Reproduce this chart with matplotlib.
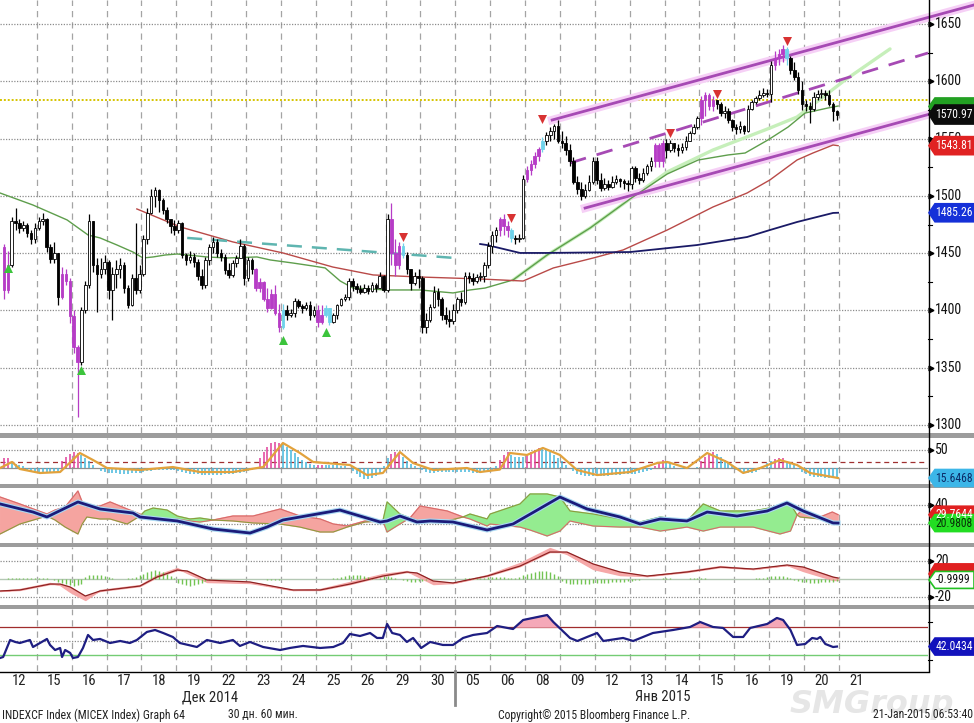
import numpy as np
import matplotlib
matplotlib.use("Agg")
import matplotlib.pyplot as plt
from matplotlib import font_manager as fm
from matplotlib.patches import Polygon, Rectangle
from matplotlib.lines import Line2D
from matplotlib.transforms import IdentityTransform, blended_transform_factory


# Bloomberg uses a narrow face; take the narrowest one that is installed
def pick_font():
    names = {f.name for f in fm.fontManager.ttflist}
    for nm in ['Liberation Sans Narrow', 'Roboto Condensed', 'Open Sans Condensed',
               'DejaVu Sans Condensed', 'Noto Sans Condensed']:
        if nm in names:
            return nm, 'normal', True
    for f in fm.fontManager.ttflist:
        if str(f.stretch) in ('condensed', 'semi-condensed', 'extra-condensed') and \
                f.name in ('DejaVu Sans', 'Noto Sans', 'Open Sans', 'Roboto', 'Liberation Sans'):
            return f.name, f.stretch, True
    return 'Liberation Sans', 'normal', False


FONT, STRETCH, NARROW = pick_font()
plt.rcParams['font.family'] = [FONT, 'DejaVu Sans']
plt.rcParams['font.stretch'] = STRETCH
FS = 1.0 if NARROW else 0.86

# ---------------------------
# Data: MICEX hourly bars, 9 bars per session
# ---------------------------
day_labels = ["12", "15", "16", "17", "18", "19", "22", "23", "24", "25", "26", "29", "30",
              "05", "06", "08", "09", "12", "13", "14", "15", "16", "19", "20", "21"]

first_open = 1455
closes = [
    [1418, 1440, 1478, 1476, 1472, 1475, 1468, 1462, 1472],
    [1478, 1480, 1455, 1445, 1450, 1412, 1432, 1426, 1395],
    [1368, 1355, 1400, 1422, 1478, 1440, 1432, 1436, 1442],
    [1418, 1432, 1436, 1440, 1420, 1405, 1428, 1418, 1432],
    [1462, 1485, 1500, 1505, 1496, 1488, 1480, 1474, 1470],
    [1476, 1448, 1444, 1447, 1442, 1430, 1422, 1444, 1455],
    [1460, 1450, 1447, 1435, 1431, 1441, 1446, 1456, 1428],
    [1444, 1436, 1420, 1425, 1410, 1402, 1414, 1398, 1386],
    [1400, 1396, 1398, 1408, 1404, 1402, 1405, 1396, 1400],
    [1390, 1396, 1402, 1390, 1396, 1405, 1410, 1412, 1426],
    [1421, 1419, 1416, 1420, 1417, 1422, 1420, 1430, 1418],
    [1480, 1450, 1440, 1456, 1448, 1436, 1424, 1430, 1428],
    [1386, 1392, 1403, 1416, 1410, 1396, 1393, 1391, 1400],
    [1410, 1407, 1430, 1428, 1426, 1429, 1430, 1440, 1456],
    [1466, 1470, 1480, 1474, 1470, 1463, 1462, 1463, 1515],
    [1523, 1528, 1535, 1541, 1548, 1553, 1557, 1561, 1548],
    [1546, 1540, 1530, 1512, 1506, 1500, 1505, 1512, 1530],
    [1514, 1507, 1510, 1508, 1512, 1515, 1513, 1511, 1510],
    [1524, 1516, 1514, 1520, 1526, 1530, 1544, 1530, 1546],
    [1540, 1546, 1542, 1540, 1543, 1548, 1555, 1560, 1568],
    [1584, 1588, 1578, 1584, 1580, 1572, 1574, 1566, 1560],
    [1558, 1561, 1557, 1576, 1582, 1585, 1588, 1590, 1589],
    [1614, 1620, 1624, 1628, 1620, 1610, 1604, 1592, 1580],
    [1578, 1576, 1586, 1589, 1590, 1588, 1580, 1574, 1570.97],
]
highs = [
    [1458, 1452, 1482, 1489, 1480, 1478, 1476, 1470, 1476],
    [1482, 1485, 1481, 1458, 1460, 1450, 1438, 1436, 1428],
    [1400, 1370, 1403, 1426, 1484, 1478, 1446, 1446, 1448],
    [1444, 1438, 1444, 1446, 1442, 1422, 1432, 1476, 1440],
    [1466, 1489, 1506, 1508, 1506, 1498, 1490, 1480, 1479],
    [1479, 1477, 1450, 1452, 1450, 1445, 1436, 1447, 1458],
    [1464, 1462, 1454, 1449, 1441, 1444, 1448, 1462, 1458],
    [1447, 1446, 1437, 1428, 1426, 1420, 1419, 1422, 1406],
    [1406, 1405, 1401, 1411, 1410, 1406, 1407, 1408, 1404],
    [1405, 1405, 1405, 1400, 1398, 1406, 1411, 1414, 1428],
    [1428, 1424, 1422, 1423, 1422, 1425, 1424, 1434, 1431],
    [1484, 1494, 1462, 1460, 1459, 1451, 1436, 1434, 1436],
    [1430, 1398, 1406, 1421, 1420, 1412, 1403, 1400, 1406],
    [1412, 1416, 1434, 1434, 1433, 1432, 1434, 1442, 1460],
    [1469, 1473, 1482, 1484, 1478, 1472, 1466, 1467, 1518],
    [1526, 1531, 1538, 1543, 1551, 1556, 1560, 1563, 1566],
    [1557, 1552, 1545, 1534, 1517, 1512, 1510, 1518, 1534],
    [1534, 1520, 1516, 1514, 1517, 1518, 1516, 1515, 1514],
    [1526, 1526, 1520, 1524, 1528, 1534, 1546, 1546, 1549],
    [1550, 1549, 1546, 1545, 1546, 1552, 1557, 1563, 1570],
    [1587, 1591, 1590, 1587, 1584, 1582, 1578, 1577, 1567],
    [1563, 1565, 1562, 1579, 1584, 1587, 1592, 1594, 1593],
    [1618, 1626, 1628, 1632, 1630, 1622, 1617, 1608, 1600],
    [1584, 1582, 1591, 1592, 1593, 1592, 1592, 1582, 1575],
]
lows = [
    [1410, 1415, 1438, 1470, 1468, 1469, 1464, 1458, 1459],
    [1470, 1475, 1451, 1441, 1441, 1405, 1410, 1422, 1389],
    [1363, 1307, 1352, 1398, 1420, 1434, 1399, 1428, 1432],
    [1410, 1392, 1420, 1428, 1415, 1402, 1404, 1414, 1415],
    [1430, 1458, 1484, 1490, 1486, 1484, 1476, 1468, 1466],
    [1468, 1446, 1440, 1441, 1438, 1427, 1419, 1420, 1440],
    [1450, 1447, 1443, 1432, 1428, 1429, 1438, 1446, 1422],
    [1426, 1432, 1417, 1416, 1408, 1399, 1401, 1396, 1381],
    [1384, 1392, 1394, 1394, 1402, 1398, 1400, 1392, 1394],
    [1386, 1388, 1394, 1387, 1389, 1393, 1404, 1408, 1409],
    [1417, 1415, 1414, 1415, 1414, 1416, 1416, 1420, 1416],
    [1416, 1440, 1430, 1436, 1446, 1432, 1418, 1422, 1420],
    [1380, 1380, 1390, 1402, 1404, 1392, 1388, 1386, 1388],
    [1398, 1404, 1406, 1424, 1422, 1424, 1426, 1425, 1437],
    [1450, 1460, 1465, 1466, 1464, 1460, 1458, 1460, 1462],
    [1512, 1518, 1524, 1530, 1538, 1544, 1548, 1550, 1546],
    [1542, 1536, 1526, 1510, 1502, 1496, 1498, 1504, 1510],
    [1510, 1504, 1505, 1505, 1507, 1510, 1508, 1506, 1504],
    [1506, 1512, 1510, 1512, 1518, 1522, 1525, 1525, 1525],
    [1533, 1538, 1538, 1535, 1537, 1540, 1548, 1554, 1558],
    [1562, 1570, 1575, 1574, 1576, 1570, 1568, 1564, 1557],
    [1554, 1555, 1554, 1556, 1575, 1580, 1584, 1586, 1586],
    [1582, 1610, 1614, 1617, 1614, 1606, 1601, 1589, 1575],
    [1574, 1564, 1574, 1584, 1585, 1584, 1578, 1565, 1566],
]

# TD setup bars (coloured candles) and signal arrows
magenta_bars = [0, 1, 15, 16, 17, 18, 19, 65, 66, 67, 68, 69, 70, 71, 81, 82,
                100, 101, 102, 128, 129, 130, 135, 136, 137, 138, 168, 169, 170,
                180, 181, 182, 183, 199, 200, 201]
cyan_bars = [72, 83, 84, 103, 131, 139, 202]
buy_x = [1, 20, 72, 83]
buy_y = [1437, 1348, 1374, 1381]
sell_x = [103, 131, 139, 172, 184, 202]
sell_y = [1464, 1481, 1567, 1555, 1589, 1635]

# moving averages (bar index, price)
ma_green_x = [-1.0, 7.5, 16.3, 21.7, 24.8, 29.2, 33.3, 35.9, 38.5, 41.6, 44.7, 52.4, 57.6,
              65.3, 68.7, 74.6, 79.8, 82.9, 86.8, 90.1, 98.9, 107.4, 115.9, 120.3, 124.2,
              131.4, 140.2, 151.3, 161.6, 171.2, 179.2, 186.9, 191.3, 197.2, 202.4, 206.8,
              212.7, 215.3]
ma_green = [1502.5, 1492.0, 1479.0, 1465.9, 1463.3, 1457.1, 1451.0, 1445.8, 1446.7, 1448.4,
            1449.3, 1446.7, 1445.8, 1446.7, 1444.1, 1441.4, 1438.8, 1437.1, 1425.7, 1419.6,
            1417.9, 1417.9, 1415.3, 1417.9, 1419.6, 1426.6, 1448.4, 1472.0, 1497.3, 1519.1,
            1531.3, 1535.7, 1537.4, 1548.8, 1560.1, 1572.3, 1576.7, 1578.4]
pale_x = [131.4, 140.2, 151.3, 161.6, 171.2, 183.0, 197.7, 204.7, 217.1, 228.7]
pale_y = [1426.6, 1448.4, 1472.0, 1497.3, 1520.9, 1540.0, 1559.2, 1568.8, 1601.1, 1628.2]
ma_red_x = [34.3, 45.5, 59.1, 72.0, 84.9, 95.3, 107.4, 122.9, 134.0, 141.8, 152.1, 159.8,
            171.2, 183.0, 191.8, 197.7, 204.7, 208.8, 214.0, 215.3]
ma_red = [1488.6, 1472.9, 1459.8, 1450.2, 1437.9, 1431.0, 1429.2, 1427.5, 1425.7, 1437.1,
          1445.8, 1452.8, 1470.2, 1490.3, 1502.5, 1513.9, 1531.3, 1537.4, 1544.4, 1543.81]
ma_navy_x = [122.9, 124.7, 133.2, 140.2, 161.6, 178.9, 191.8, 197.7, 204.7, 214.0, 215.3]
ma_navy = [1458.0, 1457.1, 1450.2, 1450.2, 1451.0, 1457.1, 1464.1, 1470.2, 1477.2, 1485.1, 1485.26]

# trend lines
cyan_trend_x = [47.3, 116.4]
cyan_trend_y = [1463.3, 1445.8]
chan_top_x = [141.5, 250.4]
chan_top = [1566.2, 1666.6]
chan_bot_x = [150.0, 250.4]
chan_bot = [1489.4, 1581.9]
chan_mid_x = [146.1, 238.5]
chan_mid = [1528.7, 1624.7]
yellow_level = 1583.7

# panel 2: oscillator histogram (per bar) and its signal line
osc_hist = [
    [40, 40, 34, 33, 32, 30, 26, 24, 23], [22, 22, 22, 22, 22, 22, 36, 42, 45],
    [47, 46, 44, 40, 36, 32, 28, 24, 23], [22, 22, 22, 21, 21, 21, 22, 22, 22],
    [23, 24, 24, 25, 25, 25, 26, 26, 25], [24, 23, 22, 21, 20, 20, 19, 19, 19],
    [19, 19, 19, 20, 20, 21, 22, 22, 23], [24, 25, 27, 40, 48, 54, 58, 60, 59],
    [57, 54, 50, 46, 42, 38, 35, 33, 32], [31, 31, 31, 32, 32, 31, 30, 30, 28],
    [24, 20, 17, 15, 15, 16, 18, 20, 30], [40, 45, 47, 46, 42, 37, 33, 30, 27],
    [25, 23, 22, 22, 23, 23, 23, 23, 23], [23, 23, 23, 23, 22, 22, 22, 23, 24],
    [26, 30, 38, 44, 47, 44, 42, 41, 41], [45, 48, 50, 52, 52, 50, 47, 44, 40],
    [36, 32, 28, 24, 21, 19, 18, 18, 18], [18, 18, 18, 18, 19, 19, 19, 20, 20],
    [21, 21, 22, 23, 24, 26, 30, 34, 38], [37, 34, 30, 28, 27, 27, 28, 28, 29],
    [36, 42, 46, 47, 45, 42, 38, 34, 30], [26, 24, 23, 22, 22, 23, 25, 28, 34],
    [37, 39, 40, 40, 37, 33, 31, 27, 23], [20, 18, 17, 17, 17, 16, 16, 16, 16],
]
osc_base = 28
osc_trigger = 35.3
osc_x = [-1.0, 2.1, 4.1, 9.3, 14.5, 19.6, 23.0, 26.6, 35.1, 43.6, 50.6, 59.1, 66.9, 72.0,
         76.4, 79.8, 89.3, 93.7, 97.8, 102.2, 105.6, 110.8, 119.5, 122.9, 128.0, 130.6,
         135.0, 139.1, 143.5, 147.9, 153.1, 161.6, 168.6, 171.2, 176.3, 181.5, 186.6,
         190.8, 195.2, 200.3, 204.7, 208.1, 215.3]
osc_line = [27.9, 35.3, 26.7, 21.8, 23.0, 46.3, 37.7, 27.9, 25.5, 29.1, 23.0, 23.0, 29.1,
            58.6, 46.3, 35.3, 31.6, 19.3, 21.8, 47.5, 34.0, 25.5, 27.9, 23.0, 26.0, 46.3,
            43.9, 52.5, 43.9, 25.5, 19.3, 23.0, 34.0, 35.3, 27.9, 46.3, 35.3, 21.8, 27.9,
            37.7, 31.6, 21.8, 15.6468]

# panel 3: DMI
di_x = [-1.0, 4.1, 11.1, 13.2, 15.8, 19.1, 20.2, 21.4, 24.8, 27.4, 31.8, 35.1, 36.4, 38.5,
        42.1, 44.7, 48.0, 50.6, 54.0, 59.1, 64.3, 71.3, 76.4, 81.6, 85.0, 88.6, 93.2, 97.8,
        98.9, 102.2, 104.8, 107.4, 114.4, 118.5, 120.3, 124.7, 125.5, 133.2, 135.8, 140.2,
        143.5, 146.1, 152.1, 159.0, 164.2, 169.4, 176.3, 180.5, 184.9, 193.4, 200.3, 203.0,
        204.7, 205.5, 210.7, 213.8, 215.3]
minus_di = [48.4, 41.1, 30.5, 34.7, 37.9, 54.7, 43.2, 37.9, 38.9, 43.2, 35.8, 30.5, 28.4,
            25.3, 23.2, 25.3, 23.2, 22.1, 24.2, 28.4, 28.4, 35.8, 28.4, 25.3, 20.0, 17.9,
            23.2, 23.2, 11.6, 20.0, 26.3, 38.9, 33.7, 27.4, 25.3, 17.9, 20.0, 16.8, 13.7,
            7.4, 12.6, 23.2, 17.9, 16.8, 16.8, 12.6, 16.8, 12.6, 16.8, 16.8, 9.5, 12.6,
            29.5, 32.6, 27.4, 32.6, 29.76]
plus_di = [9.5, 20.0, 28.4, 24.2, 16.8, 9.5, 20.0, 27.4, 25.3, 25.3, 20.0, 28.4, 33.7, 36.8,
           34.7, 28.4, 25.3, 26.3, 24.2, 23.2, 21.1, 20.0, 16.8, 11.6, 11.6, 16.8, 22.1,
           23.2, 43.2, 30.5, 26.3, 23.2, 23.2, 27.4, 30.5, 25.3, 30.5, 41.1, 51.6, 51.6,
           48.4, 33.7, 30.5, 25.3, 22.1, 27.4, 23.2, 41.1, 33.7, 33.7, 38.9, 41.1, 29.5,
           27.4, 25.3, 22.1, 21.0]
adx_x = [-1.0, 7.5, 11.1, 19.1, 24.8, 33.3, 35.1, 44.7, 54.0, 63.5, 67.9, 72.0, 80.8, 86.7,
         91.9, 97.1, 98.9, 102.2, 106.6, 110.0, 115.9, 124.7, 131.4, 143.5, 150.5, 159.0,
         164.2, 169.4, 176.3, 181.5, 189.2, 197.0, 202.1, 206.3, 214.0, 215.3]
adx = [41.1, 32.6, 27.4, 43.2, 35.8, 31.6, 27.4, 23.2, 14.7, 10.5, 16.8, 24.2, 30.5, 34.7,
       28.4, 22.1, 23.2, 28.4, 22.1, 23.2, 22.1, 13.7, 20.0, 48.4, 35.8, 27.4, 20.0, 25.3,
       23.2, 32.6, 28.4, 33.7, 42.1, 33.7, 21.1, 20.98]

# panel 4: MACD
macd_x = [-1.0, 4.1, 11.9, 14.5, 17.1, 21.0, 24.8, 35.1, 39.5, 44.7, 47.3, 52.4, 63.5, 74.6,
          81.6, 89.3, 97.8, 104.0, 106.6, 110.8, 115.9, 124.7, 133.2, 140.9, 145.3, 152.1,
          159.0, 166.0, 176.3, 184.9, 193.4, 202.1, 206.3, 214.0, 215.3]
macd_signal = [-13.3, -12.2, -5.6, -5.6, -8.9, -18.9, -13.3, -7.8, 2.2, 10.0, 8.9, -1.1,
               -3.3, -12.2, -12.2, -5.6, 3.3, 7.8, 6.7, -2.2, -4.4, 3.3, 14.4, 30.0, 30.0,
               16.7, 7.8, 3.3, 7.8, 13.3, 11.1, 15.6, 13.3, 2.2, 1.1]
macd_fast = [-13.3, -11.1, -4.4, -6.7, -14.4, -23.3, -12.2, -6.7, 4.4, 12.2, 6.7, -3.3,
             -4.4, -12.2, -11.1, -3.3, 5.6, 8.9, 3.3, -5.6, -4.4, 4.4, 17.8, 34.4, 27.8,
             11.1, 4.4, 3.3, 8.9, 14.4, 11.1, 15.6, 8.9, -1.1, -1.0]
macd_hist = [
    [0.5, 1, 1.5, 1.5, 1.5, 1.5, 1.5, 1.5, 1.5], [1.5, 1.5, 1, 0.5, -1, -3, -4, -6, -7],
    [-8, -7, -5, 2, 4, 5, 5, 4, 3], [2, 1, 0.5, 0.5, 0.5, 1, 1, 2, 4],
    [6, 8, 9, 10, 9, 8, 6, 3, 1], [-4, -6, -7, -8, -7, -6, -4, -2, -1],
    [-0.5, 0, 0, 0.5, 0.5, 0.5, 0.5, 0.5, 0.5], [0.5, 0.5, 0.5, 0, -0.5, -1, -1, -1, -1],
    [-0.5, 0, 0, 0.5, 0.5, 0.5, 0.5, 0.5, 0.5], [0.5, 0.5, 0.5, 0.5, 1, 1, 2, 3, 4],
    [5, 5, 4, 3, 2, 1, 0.5, 1, 3], [3, 2, 1, 0, -1, -2, -3, -3, -2],
    [-2, -1, -0.5, 0, 0, 0, 0, 0, 0], [0.5, 0.5, 1, 1, 1, 1.5, 1.5, 1.5, 2],
    [2, 2, 2, 2, 1.5, 1.5, 1.5, 2, 5], [6, 7, 8, 9, 9, 9, 8, 6, 3],
    [-2, -4, -5, -6, -6, -6, -5, -5, -4], [-4, -4, -4, -4, -3, -3, -3, -3, -2],
    [-2, -1, -1, 0, 0, 0.5, 0.5, 0.5, 1], [1, 1, 0.5, 0.5, 0.5, 0.5, 1, 1, 1],
    [1, 1, 0.5, 0, 0, -0.5, -0.5, -0.5, 0], [0, 0, 0, 0.5, 0.5, 1, 1, 1.5, 2],
    [3, 3, 3, 3, 2, 1, -1, -2, -3], [-3, -4, -4, -4, -3.5, -3.5, -3, -3, -2],
]

# panel 5: RSI
rsi_x = [-1.0, -0.2, 1.6, 2.9, 4.1, 6.7, 7.5, 9.3, 11.1, 11.9, 13.2, 14.5, 15.0, 15.8, 17.1,
         17.8, 19.1, 20.4, 21.7, 23.0, 24.8, 27.4, 30.0, 32.5, 34.3, 36.9, 39.0, 41.1, 43.6,
         45.4, 49.8, 52.4, 55.8, 59.1, 60.9, 63.5, 66.9, 71.3, 73.8, 77.2, 81.6, 85.0, 87.5,
         89.3, 91.9, 94.5, 96.3, 97.8, 98.9, 100.2, 102.2, 104.0, 105.6, 107.7, 110.0,
         113.3, 115.9, 118.5, 121.1, 122.9, 124.7, 127.3, 131.4, 134.0, 140.2, 141.8,
         146.1, 148.0, 150.5, 153.1, 154.7, 159.8, 162.4, 167.5, 172.7, 177.1, 179.7,
         183.0, 185.6, 188.2, 190.8, 192.6, 197.0, 199.5, 201.1, 203.0, 204.7, 206.8,
         208.6, 209.9, 210.7, 212.0, 214.0, 215.0]
rsi = [25.7, 27.1, 51.4, 48.6, 47.1, 51.4, 41.4, 47.1, 52.9, 44.3, 37.1, 40.0, 27.1, 37.1,
       32.9, 25.7, 27.1, 40.0, 58.6, 51.4, 52.9, 47.1, 50.0, 47.1, 51.4, 62.9, 65.7, 61.4,
       55.7, 47.1, 41.4, 51.4, 47.1, 51.4, 42.9, 48.6, 41.4, 37.1, 40.0, 42.9, 40.0, 41.4,
       47.1, 60.0, 57.1, 61.4, 54.3, 54.3, 74.3, 61.4, 58.6, 48.6, 54.3, 40.0, 48.6, 44.3,
       44.3, 54.3, 58.6, 60.0, 61.4, 71.4, 67.1, 80.0, 87.1, 77.1, 54.3, 50.0, 55.7, 61.4,
       50.0, 54.3, 50.0, 61.4, 65.7, 70.0, 77.1, 70.0, 68.6, 55.7, 55.7, 68.6, 74.3, 82.9,
       80.0, 65.7, 44.3, 45.7, 54.3, 52.9, 55.7, 45.7, 41.4, 42.0434]

# ---------------------------
# Layout (pixel based, Bloomberg style)
# ---------------------------
W, H = 974, 723
PLOT_RIGHT = 928
BAR_PX = 34.87 / 9
XMIN = -2 / BAR_PX - 0.5
XMAX = (PLOT_RIGHT - 2) / BAR_PX - 0.5
ID = IdentityTransform()

MAG = '#b63cc6'
CYAN = '#6fd2ea'
GRID = '#a4a4a4'

o_close = np.array(closes, dtype=float).ravel()
o_high = np.array(highs, dtype=float).ravel()
o_low = np.array(lows, dtype=float).ravel()
o_open = np.r_[first_open, o_close[:-1]]
o_high = np.maximum(o_high, np.maximum(o_open, o_close))
o_low = np.minimum(o_low, np.minimum(o_open, o_close))
n = len(o_close)
bars = np.arange(n)
day_edges = [9 * d - 0.5 for d in range(1, 25)]

fig = plt.figure(figsize=(W / 100, H / 100), dpi=100)
fig.patch.set_facecolor('white')


def px_axes(top, bottom, ylim):
    ax = fig.add_axes([0, 1 - bottom / H, PLOT_RIGHT / W, (bottom - top) / H])
    ax.set_xlim(XMIN, XMAX)
    ax.set_ylim(*ylim)
    ax.set_axis_off()
    for xb in day_edges:
        ax.axvline(xb, color=GRID, lw=0.9, ls=(0, (5, 4)), zorder=0)
    return ax


def hdot(ax, v, color='#8c8c8c'):
    ax.axhline(v, color=color, lw=0.9, ls=(0, (1, 1.2)), zorder=0)


def disp_y(ax, v):
    return ax.transData.transform((0, v))[1]


def right_tick(ax, v, s):
    y = disp_y(ax, v)
    fig.add_artist(Line2D([931], [y], marker='>', ms=3.5, color='black', ls='none', transform=ID))
    fig.text(935, y, s, transform=ID, fontsize=10 * FS, va='center', ha='left', color='#111')


def minor_tick(ax, v):
    y = disp_y(ax, v)
    fig.add_artist(Line2D([928, 932], [y, y], color='black', lw=0.8, transform=ID))


def tag(ax, v, s, face, color='white', h=17, edge=None, dy=0):
    y = disp_y(ax, v) + dy
    pts = [(929, y), (935, y + h / 2), (W, y + h / 2), (W, y - h / 2), (935, y - h / 2)]
    fig.add_artist(Polygon(pts, closed=True, transform=ID, facecolor=face,
                           edgecolor=edge or face, lw=1.2, zorder=20))
    if s:
        fig.text(935.5, y, s, transform=ID, color=color, fontsize=8.4 * FS, va='center',
                 ha='left', zorder=21)


# ---------------------------
# Main price panel
# ---------------------------
ax = px_axes(0, 433, (1293.1, 1670.9))
for p in range(1300, 1651, 50):
    hdot(ax, p)
ax.axhline(yellow_level, color='#d6c400', lw=1.4, ls=(0, (1, 1)), zorder=1)

ax.plot(pale_x, pale_y, color='#c6efba', lw=2.4, zorder=2, solid_capstyle='round')
ax.plot(ma_green_x, ma_green, color='#5e9e4c', lw=1.0, zorder=3)
ax.plot(ma_red_x, ma_red, color='#b94a48', lw=1.0, zorder=3)
ax.plot(ma_navy_x, ma_navy, color='#1a1a66', lw=1.3, zorder=3)
ax.plot(cyan_trend_x, cyan_trend_y, color='#5fb5b0', lw=1.8, ls=(0, (6, 4)), zorder=3)

for xs, ys, ls in [(chan_top_x, chan_top, '-'), (chan_bot_x, chan_bot, '-'),
                   (chan_mid_x, chan_mid, (0, (6, 4)))]:
    if ls == '-':
        ax.plot(xs, ys, color='#f6d0f6', lw=6, zorder=2, clip_on=False)
    ax.plot(xs, ys, color='#a64ab4', lw=2, ls=ls, zorder=4, clip_on=False)

mag_set, cyan_set = set(magenta_bars), set(cyan_bars)
for i in bars:
    o, h, l, c = o_open[i], o_high[i], o_low[i], o_close[i]
    if i in mag_set:
        face, edge, wick = MAG, MAG, MAG
    elif i in cyan_set:
        face, edge, wick = CYAN, CYAN, CYAN
    elif c >= o:
        face, edge, wick = 'white', 'black', 'black'
    else:
        face, edge, wick = 'black', 'black', 'black'
    ax.vlines(i, l, h, color=wick, lw=0.9, zorder=5)
    ax.add_patch(Rectangle((i - 0.33, min(o, c)), 0.66, max(abs(c - o), 0.6),
                           facecolor=face, edgecolor=edge, lw=0.6, zorder=6))

ax.scatter(buy_x, buy_y, marker='^', s=42, color='#3cc43c', zorder=7, linewidths=0)
ax.scatter(sell_x, sell_y, marker='v', s=42, color='#d83232', zorder=7, linewidths=0)

for p in range(1300, 1651, 50):
    right_tick(ax, p, str(p))
for p in range(1325, 1651, 50):
    minor_tick(ax, p)
tag(ax, 1578, '', '#22a022')
tag(ax, 1570.97, '1570.97', '#0c0c0c', h=19)
tag(ax, 1543.81, '1543.81', '#e02222', h=18)
tag(ax, 1485.26, '1485.26', '#1530d8', h=18)

# ---------------------------
# Oscillator histogram panel
# ---------------------------
ax_a = px_axes(438, 484, (8.3, 64.7))
hdot(ax_a, 50)
ax_a.axhline(osc_trigger, color='#a03030', lw=0.9, ls=(0, (4, 3)), zorder=1)
ax_a.axhline(osc_base, color='#909090', lw=0.9, zorder=1)
hist_a = np.array(osc_hist, dtype=float).ravel()
cols = [('#e0409a' if i in mag_set else '#45b8dc') for i in bars]
ax_a.vlines(bars, osc_base, hist_a, colors=cols, lw=1.1, zorder=2)
ax_a.plot(osc_x, osc_line, color='#e2a23c', lw=1.6, zorder=3)
right_tick(ax_a, 50, '50')
tag(ax_a, 15.6468, '15.6468', '#3cb6e8', color='#0b2a66', h=17)

# ---------------------------
# DMI panel
# ---------------------------
ax_b = px_axes(488, 543, (0, 57.9))
hdot(ax_b, 40)
hdot(ax_b, 20)
pdi, mdi = np.array(plus_di), np.array(minus_di)
ax_b.fill_between(di_x, pdi, mdi, where=pdi >= mdi, interpolate=True, color='#94ec90', zorder=1)
ax_b.fill_between(di_x, pdi, mdi, where=pdi < mdi, interpolate=True, color='#f5a4a0', zorder=1)
ax_b.plot(di_x, minus_di, color='#d86a6a', lw=0.8, zorder=2)
ax_b.plot(di_x, plus_di, color='#8e9a3e', lw=0.8, zorder=2)
ax_b.plot(adx_x, adx, color='#a9d8f2', lw=3.6, zorder=3)
ax_b.plot(adx_x, adx, color='#1b1b7a', lw=2.0, zorder=4)
right_tick(ax_b, 40, '40')
tag(ax_b, 29.7644, '29.7644', '#e02020', h=17)
tag(ax_b, 20.9808, '20.9808', '#22dd22', color='#083008', h=17)

# ---------------------------
# MACD panel
# ---------------------------
ax_c = px_axes(547, 605, (-28.9, 35.6))
hdot(ax_c, 20)
hdot(ax_c, -20)
ax_c.axhline(0, color='#b4c8b4', lw=1.0, zorder=0)
ax_c.fill_between(macd_x, macd_signal, macd_fast, color='#f6a8a8', zorder=1)
hist_c = np.array(macd_hist, dtype=float).ravel()
ax_c.vlines(bars, 0, hist_c, colors='#72c452', lw=1.0, zorder=2)
ax_c.plot(macd_x, macd_signal, color='#8e2222', lw=0.9, zorder=3)
right_tick(ax_c, 20, '20')
right_tick(ax_c, -20, '-20')
tag(ax_c, -0.9999, '', '#e02020', h=20, dy=6)
tag(ax_c, -0.9999, '-0.9999', 'white', color='#111', h=17, edge='#22c022')

# ---------------------------
# RSI panel
# ---------------------------
ax_d = px_axes(609, 671, (7.1, 95.7))
hdot(ax_d, 50)
ax_d.axhline(70, color='#a02c2c', lw=0.9, zorder=1)
ax_d.axhline(30, color='#74cc74', lw=1.0, zorder=1)
rv = np.array(rsi)
ax_d.fill_between(rsi_x, rv, 70, where=rv > 70, interpolate=True, color='#f5a8b8', zorder=1)
ax_d.plot(rsi_x, rsi, color='#1e1e82', lw=1.6, zorder=3)
minor_tick(ax_d, 77)
minor_tick(ax_d, 23)
tag(ax_d, 42.0434, '42.0434', '#1212bc', h=17)

# ---------------------------
# Frame: separators, axes lines, dates, footer
# ---------------------------
for top, bot in [(433, 438), (484, 488), (543, 547), (605, 609)]:
    fig.add_artist(Rectangle((0, H - bot), W, bot - top, transform=ID,
                             facecolor='#9c9c9c', edgecolor='none', zorder=15))
fig.add_artist(Line2D([928.5, 928.5], [H - 671, H], color='black', lw=1.0, transform=ID, zorder=16))
fig.add_artist(Line2D([0, 928.5], [H - 671.5, H - 671.5], color='black', lw=1.0, transform=ID, zorder=16))
fig.add_artist(Line2D([455, 455], [H - 705, H - 671], color='#8a8a8a', lw=2.0, transform=ID, zorder=16))

# faint watermark, drawn first so the texts sit on it
fig.text(872, H - 705, 'SMGroup', transform=ID, fontsize=23, ha='center', va='center',
         color='#e6e6e6', style='italic', fontweight='bold', family='DejaVu Sans',
         fontstretch='normal', zorder=0)

xt = blended_transform_factory(ax.transData, ID)
for d, lab in enumerate(day_labels):
    fig.text(9 * d + 4, H - 681, lab, transform=xt, fontsize=10.5 * FS, ha='center',
             va='center', color='#222', zorder=5)
fig.text(210, H - 697, 'Дек 2014', transform=ID, fontsize=10.5 * FS, ha='center', va='center',
         color='#222')
fig.text(663, H - 697, 'Янв 2015', transform=ID, fontsize=10.5 * FS, ha='center', va='center',
         color='#222')

fig.text(2, H - 715, 'INDEXCF Index (MICEX Index) Graph 64', transform=ID, fontsize=8.5 * FS,
         ha='left', va='center', color='#222')
fig.text(228, H - 715, '30 дн. 60 мин.', transform=ID, fontsize=8.5 * FS, ha='left',
         va='center', color='#222')
fig.text(498, H - 715, 'Copyright© 2015 Bloomberg Finance L.P.', transform=ID,
         fontsize=8.5 * FS, ha='left', va='center', color='#222')
fig.text(973, H - 715, '21-Jan-2015 06:53:40', transform=ID, fontsize=8.5 * FS, ha='right',
         va='center', color='#222', zorder=5)

fig.savefig('out.png', dpi=100)
